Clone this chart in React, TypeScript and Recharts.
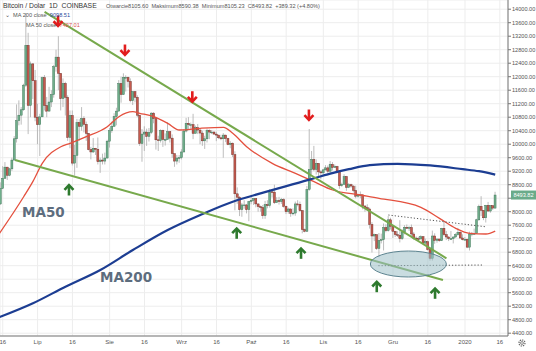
import React from 'react';
import {
  ComposedChart, Bar, Line, XAxis, YAxis, CartesianGrid, ReferenceLine, ReferenceDot,
} from 'recharts';

// days counted from 1 Jul 2019; first candle = 15 Jun 2019
const FIRST_DAY = -16;
const FIRST_OPEN = 8230;

// daily candles: [high, low, close]
const jun2019: number[][] = [
  [8870,8200,8690],[9350,8670,8990],[9470,8970,9320],[9330,8940,9080],[9300,9050,9270],[9600,9210,9530],[10240,9520,10160],[11180,10050,10700],[11300,10560,10860],[11100,10580,11020],[11790,10990,11750],[13880,11700,12930],[13300,10300,11150],[12450,10800,12380],[12400,11340,11880],[12200,10680,10800],
];
const jul2019: number[][] = [
  [11200,10000,10580],[10900,9650,10810],[12000,10810,11970],[12050,11000,11150],[11400,10800,10980],[11700,10980,11250],[11600,11100,11470],[12350,11380,12300],[12800,12150,12580],[13200,11600,12100],[12100,11000,11350],[11950,11100,11800],[11850,10850,11390],[11450,10100,10200],[11000,9880,10850],[11000,9370,9440],[9980,9070,9670],[10750,9300,10640],[10740,10100,10530],[11100,10400,10760],[10830,10350,10590],[10670,10100,10320],[10330,9820,9840],[9920,9550,9770],[10180,9740,9880],[9890,9680,9850],[10200,9400,9480],[9600,9150,9530],[9720,9400,9500],[9750,9400,9590],[10130,9580,10090],
];
const aug2019: number[][] = [
  [10480,9900,10400],[10670,10340,10530],[10920,10520,10820],[11080,10560,10980],[11900,10980,11800],[12000,11230,11470],[12100,11470,11980],[12040,11560,11980],[12000,11680,11860],[11950,11240,11290],[11570,11160,11560],[11560,11240,11390],[11450,10800,10860],[10870,9950,10020],[10450,9480,10300],[10530,9800,10360],[10460,9950,10230],[10480,10080,10350],[10950,10300,10920],[10950,10620,10760],[10770,9840,10130],[10250,9800,10110],[10440,10050,10410],[10430,9920,10140],[10320,9960,10140],[10650,10140,10370],[10390,10050,10180],[10290,9600,9720],[9720,9330,9500],[9680,9400,9590],[9680,9450,9600],
];
const sep2019: number[][] = [
  [9850,9550,9770],[10450,9760,10390],[10780,10350,10620],[10800,10430,10580],[10640,10460,10580],[10900,10150,10320],[10550,10320,10490],[10600,10300,10420],[10460,10000,10330],[10400,9950,10100],[10250,9860,10160],[10460,10050,10410],[10440,10150,10360],[10420,10300,10360],[10380,10280,10300],[10370,10090,10270],[10280,10150,10190],[10280,10120,10160],[10330,9600,10270],[10280,10060,10170],[10190,9970,9990],[10090,9880,10030],[10050,9620,9690],[9790,8040,8530],[8720,8230,8430],[8460,7870,8060],[8260,7850,8200],[8340,8090,8200],[8230,7950,8060],[8320,7720,8300],
];
const oct2019: number[][] = [
  [8500,8220,8340],[8400,8200,8390],[8400,8130,8230],[8250,8000,8150],[8180,8000,8130],[8200,7790,7880],[8320,7790,8210],[8340,8100,8180],[8670,8120,8590],[8650,8420,8580],[8800,8230,8270],[8430,8270,8330],[8440,8210,8300],[8410,8230,8360],[8400,8120,8160],[8180,7930,8000],[8120,7940,8080],[8100,7850,7950],[8100,7890,7960],[8300,7880,8230],[8340,8160,8220],[8300,8000,8030],[8050,7360,7470],[7500,7390,7420],[8760,7400,8660],[10450,8620,9250],[9800,9100,9550],[9950,9200,9250],[9550,9100,9430],[9440,9050,9180],[9230,8960,9150],
];
const nov2019: number[][] = [
  [9270,9060,9240],[9380,9220,9300],[9370,9140,9200],[9500,9140,9400],[9470,9220,9310],[9400,9300,9340],[9360,9140,9200],[9220,8680,8770],[8860,8740,8810],[9110,8800,9040],[9060,8620,8720],[8850,8700,8800],[8830,8710,8760],[8780,8570,8630],[8770,8400,8460],[8530,8420,8490],[8600,8400,8500],[8500,8070,8170],[8180,8000,8120],[8220,8050,8080],[8120,7500,7620],[7690,6790,7280],[7350,7130,7320],[7330,6870,6910],[7370,6650,7150],[7350,7060,7170],[7650,6850,7530],[7630,7390,7440],[7870,7410,7760],[7820,7470,7570],
];
const dec2019: number[][] = [
  [7570,7220,7420],[7430,7250,7320],[7420,7250,7300],[7750,7090,7200],[7480,7160,7400],[7600,7330,7540],[7620,7490,7510],[7570,7430,7530],[7620,7270,7340],[7400,7160,7220],[7270,7150,7200],[7260,7100,7190],[7300,7200,7260],[7270,7050,7070],[7200,7030,7110],[7140,6850,6880],[6940,6550,6620],[7440,6550,7280],[7360,7050,7150],[7210,7080,7190],[7200,7110,7140],[7520,7130,7510],[7700,7270,7320],[7430,7160,7250],[7270,7130,7200],[7430,7160,7200],[7270,7060,7250],[7360,7230,7320],[7520,7290,7390],[7420,7210,7220],[7330,7150,7170],
];
const jan2020: number[][] = [
  [7250,7150,7180],[7200,6920,6950],[7410,6850,7340],[7400,7270,7350],[7500,7320,7350],[7790,7350,7760],[8210,7730,8160],[8460,7870,8040],[8050,7750,7820],[8200,7680,8190],[8290,7990,8020],[8190,7970,8180],[8190,8050,8105.6],[8590.38,8105.23,8493.82],
];

// moving averages: [day, value]
const ma50Points: number[][] = [
  [-17,7300],[-6,8444],[-2,8900],[2,9434],[10,9926],[14,10027],[21,10222],[30,10519],[35,10815],[41,10963],[44,10916],[50,10815],[56,10619],[61,10421],[70,10471],[80,10501],[84,10323],[90,9926],[101,9434],[111,9138],[119,8889],[127,8643],[139,8495],[147,8397],[165,8130],[173,7804],[180,7508],[186,7360],[193,7339],[197,7427],
];
const ma200Points: number[][] = [
  [-17,4860],[-2,5286],[12,5778],[27,6273],[41,6865],[56,7458],[70,7902],[84,8296],[91,8444],[117,8950],[126,9130],[134,9260],[143,9380],[155,9420],[169,9370],[183,9260],[190,9200],[197,9099],
];

// annotations (day, price)
const upperTrend = [{ x: 3, y: 13920 }, { x: 176, y: 6620 }];
const lowerTrend = [{ x: -9.7, y: 9532 }, { x: 174.5, y: 5976 }];
const upperDotted = [{ x: 151, y: 7902 }, { x: 192.6, y: 7556 }];
const lowerDotted = [{ x: 146.7, y: 6400 }, { x: 191.9, y: 6420 }];
const ellipseCenter = { x: 159.6, y: 6450 };
const downArrows = [[8.8, 13650], [37.6, 12791], [66.6, 11407], [116.8, 10865]];
const upArrows = [[13.5, 8643], [85.7, 7360], [113.4, 6767], [146, 5778], [171.1, 5582]];

const xTickDays = [-15, 0, 15, 31, 46, 62, 77, 92, 107, 123, 138, 153, 168, 184, 199];
const xTickLabels = ['16', 'Lip', '16', 'Sie', '16', 'Wrz', '16', 'Paź', '16', 'Lis', '16', 'Gru', '16', '2020', '16'];
const yTicks = [4400, 4800, 5200, 5600, 6000, 6400, 6800, 7200, 7600, 8000, 8400, 8800, 9200, 9600, 10000, 10400, 10800, 11200, 11600, 12000, 12400, 12800, 13200, 13600, 14000];

const lastClose = 8493.82;

const candles = (() => {
  const all = [...jun2019, ...jul2019, ...aug2019, ...sep2019, ...oct2019, ...nov2019, ...dec2019, ...jan2020];
  let prev = FIRST_OPEN;
  return all.map((row, i) => {
    const item = { d: FIRST_DAY + i, o: prev, h: row[0], l: row[1], c: row[2] };
    prev = row[2];
    return item;
  });
})();
const ma50 = ma50Points.map(([d, v]) => ({ d, v }));
const ma200 = ma200Points.map(([d, v]) => ({ d, v }));

const Candle = (props: any) => {
  const { x, y, width, height, payload } = props;
  if (!payload) return null;
  const { o, h, l, c } = payload;
  const top = Math.min(y, y + height);
  const hg = Math.abs(height);
  const pix = (v: number) => top + ((h - v) / (h - l || 1)) * hg;
  const cx = x + width / 2;
  const up = c >= o;
  const bTop = pix(Math.max(o, c));
  const bBot = pix(Math.min(o, c));
  return (
    <g>
      <line x1={cx} x2={cx} y1={top} y2={top + hg} stroke="#a0a0a0" strokeWidth={0.7} />
      <rect x={cx - 1} y={bTop} width={2} height={Math.max(bBot - bTop, 0.8)}
        fill={up ? '#6fae8b' : '#c65a4e'} stroke={up ? '#3d7356' : '#6e2d27'} strokeWidth={0.45} />
    </g>
  );
};

const arrowShape = (dir: 'up' | 'down', color: string) => (p: any) => {
  const { cx, cy } = p;
  const s = dir === 'down' ? 1 : -1;
  return (
    <g>
      <line x1={cx} x2={cx} y1={cy - 5.5 * s} y2={cy + 4 * s} stroke={color} strokeWidth={2.6} />
      <polyline points={`${cx - 4.5},${cy + 0.2 * s} ${cx},${cy + 4.8 * s} ${cx + 4.5},${cy + 0.2 * s}`}
        fill="none" stroke={color} strokeWidth={2.6} strokeLinejoin="miter" />
    </g>
  );
};

const font = '"Liberation Sans", Arial, sans-serif';

export default function App() {
  return (
    <div style={{ position: 'absolute', left: 0, top: 0, width: 536, height: 351, background: '#fff', overflow: 'hidden' }}>
      <ComposedChart width={536} height={351} data={candles} margin={{ top: 0, right: 0, bottom: 0, left: 0 }}>
        <CartesianGrid stroke="#ededed" strokeWidth={1} />
        <XAxis dataKey="d" type="number" domain={[-16.19, 202.5]} allowDataOverflow ticks={xTickDays}
          interval={0} height={15} tickSize={0} tickMargin={4}
          tickFormatter={(v: number) => xTickLabels[xTickDays.indexOf(v)] ?? ''}
          tick={{ fontSize: 6, fill: '#555', fontFamily: font }} stroke="#777" />
        <YAxis orientation="right" type="number" domain={[4317, 14273]} allowDataOverflow ticks={yTicks}
          interval={0} width={28} tickSize={3} tickMargin={1}
          tickFormatter={(v: number) => (v === 8400 ? '' : v.toFixed(2))}
          tick={{ fontSize: 5.6, fill: '#555', fontFamily: font, textAnchor: 'start' }} stroke="#777" />
        <Bar dataKey={(e: any) => [e.l, e.h]} barSize={2} shape={Candle} isAnimationActive={false} />
        <Line data={ma50} dataKey="v" type="monotone" stroke="#e4503e" strokeWidth={1.3}
          dot={false} activeDot={false} legendType="none" isAnimationActive={false} />
        <Line data={ma200} dataKey="v" type="monotone" stroke="#1c3d92" strokeWidth={2.2}
          dot={false} activeDot={false} legendType="none" isAnimationActive={false} />
        <ReferenceLine segment={upperTrend} stroke="#77a94c" strokeWidth={2} ifOverflow="visible" />
        <ReferenceLine segment={lowerTrend} stroke="#77a94c" strokeWidth={2} ifOverflow="visible" />
        <ReferenceLine segment={upperDotted} stroke="#555" strokeWidth={1} strokeDasharray="1.2 2" ifOverflow="visible" />
        <ReferenceLine segment={lowerDotted} stroke="#555" strokeWidth={1} strokeDasharray="1.2 2" ifOverflow="visible" />
        <ReferenceDot x={ellipseCenter.x} y={ellipseCenter.y} ifOverflow="visible"
          shape={(p: any) => <ellipse cx={p.cx} cy={p.cy} rx={38} ry={13} fill="#9dbfc6" fillOpacity={0.55} stroke="#5d8490" strokeWidth={1} />} />
        {downArrows.map(([d, v], i) => (
          <ReferenceDot key={'dn' + i} x={d} y={v} ifOverflow="visible" shape={arrowShape('down', '#e21d1d')} />
        ))}
        {upArrows.map(([d, v], i) => (
          <ReferenceDot key={'up' + i} x={d} y={v} ifOverflow="visible" shape={arrowShape('up', '#2e7a2e')} />
        ))}
        <ReferenceDot x={-6.7} y={7843} ifOverflow="visible"
          shape={(p: any) => <text x={p.cx} y={p.cy} fontSize={13.5} fontWeight="bold" fill="#5d6d7e" fontFamily='"DejaVu Sans", sans-serif'>MA50</text>} />
        <ReferenceDot x={26.9} y={5917} ifOverflow="visible"
          shape={(p: any) => <text x={p.cx} y={p.cy} fontSize={13.5} fontWeight="bold" fill="#5d6d7e" fontFamily='"DejaVu Sans", sans-serif'>MA200</text>} />
        <ReferenceDot x={202.5} y={lastClose} ifOverflow="visible"
          shape={(p: any) => (
            <g>
              <rect x={p.cx + 3} y={p.cy - 4.5} width={25} height={9} fill="#6aab8a" />
              <text x={p.cx + 15.5} y={p.cy + 2} fontSize={5.6} fill="#fff" textAnchor="middle" fontFamily={font}>{lastClose.toFixed(2)}</text>
            </g>
          )} />
      </ComposedChart>
      <div style={{ position: 'absolute', left: 3, top: 1, fontFamily: font, fontSize: 6.8, color: '#333', whiteSpace: 'pre', lineHeight: '9px' }}>
        Bitcoin / Dolar  1D  COINBASE
      </div>
      <div style={{ position: 'absolute', left: 106, top: 2, fontFamily: font, fontSize: 5.6, color: '#555', whiteSpace: 'pre', lineHeight: '8px' }}>
        Otwarcie8105.60  Maksimum8590.38  Minimum8105.23  C8493.82  +389.32 (+4.80%)
      </div>
      <div style={{ position: 'absolute', left: 5, top: 11, fontFamily: font, fontSize: 5.6, color: '#555', whiteSpace: 'pre', lineHeight: '8px' }}>
        {'\u2304  MA 200 close  '}<span style={{ color: '#2a4a9c' }}>9098.51</span>
      </div>
      <div style={{ position: 'absolute', left: 26, top: 21, fontFamily: font, fontSize: 5.6, color: '#555', whiteSpace: 'pre', lineHeight: '8px' }}>
        {'MA 50 close  '}<span style={{ color: '#d9534f' }}>7427.01</span>
      </div>
      <svg style={{ position: 'absolute', left: 517, top: 338 }} width={10} height={10}>
        <circle cx={5} cy={5} r={3} fill="none" stroke="#666" strokeWidth={1.2} strokeDasharray="1.4 0.9" />
        <circle cx={5} cy={5} r={1.4} fill="none" stroke="#666" strokeWidth={0.8} />
      </svg>
    </div>
  );
}
